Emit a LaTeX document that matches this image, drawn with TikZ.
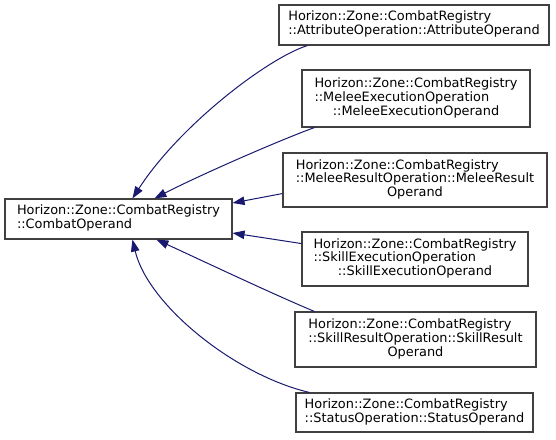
\documentclass[tikz,border=0pt]{standalone}
\usepackage{fontspec}
\setmainfont{DejaVu Sans}
\usetikzlibrary{arrows.meta,calc}
\definecolor{edgeblue}{RGB}{25,25,112}
\definecolor{boxborder}{RGB}{64,64,64}
\newcommand{\ctrline}[1]{\multicolumn{1}{@{}c@{}}{#1}}
\newcommand{\boxtext}[1]{\begin{tabular}{@{}l@{}}#1\end{tabular}}
\tikzset{
  box/.style={draw=boxborder, line width=1.1pt, fill=white, inner sep=0pt,
    font=\fontsize{12.9pt}{13.4pt}\selectfont},
  edge/.style={draw=edgeblue, line width=1pt, -{Triangle[length=12pt,width=8.5pt,fill=edgeblue]}}
}
\begin{document}
\begin{tikzpicture}
\useasboundingbox (0,0) rectangle (556pt,-439pt);
\node[box, minimum width=227pt, minimum height=40pt] (base) at (118.5pt,-219pt)
  {\boxtext{Horizon::Zone::CombatRegistry\\::CombatOperand}};
\node[box, minimum width=270pt, minimum height=40pt] (attr) at (414pt,-25pt)
  {\boxtext{Horizon::Zone::CombatRegistry\\::AttributeOperation::AttributeOperand}};
\node[box, minimum width=228pt, minimum height=57pt] (mexec) at (416pt,-98.5pt)
  {\boxtext{Horizon::Zone::CombatRegistry\\::MeleeExecutionOperation\\\ctrline{::MeleeExecutionOperand}}};
\node[box, minimum width=264pt, minimum height=54pt] (mres) at (415pt,-180pt)
  {\boxtext{Horizon::Zone::CombatRegistry\\::MeleeResultOperation::MeleeResult\\\ctrline{Operand}}};
\node[box, minimum width=226pt, minimum height=54pt] (sexec) at (415pt,-259pt)
  {\boxtext{Horizon::Zone::CombatRegistry\\::SkillExecutionOperation\\\ctrline{::SkillExecutionOperand}}};
\node[box, minimum width=241pt, minimum height=55pt] (sres) at (415.5pt,-339.5pt)
  {\boxtext{Horizon::Zone::CombatRegistry\\::SkillResultOperation::SkillResult\\\ctrline{Operand}}};
\node[box, minimum width=237pt, minimum height=39pt] (status) at (414.5pt,-412.5pt)
  {\boxtext{Horizon::Zone::CombatRegistry\\::StatusOperation::StatusOperand}};

\draw[edge] ($(attr.south west)+(29pt,0)$) .. controls (268pt,-58pt) and (180pt,-125pt) .. ($(base.north west)+(128pt,0)$);
\draw[edge] ($(mexec.south west)+(13pt,0)$) .. controls (280pt,-140pt) and (200pt,-175pt) .. ($(base.north west)+(150pt,0)$);
\draw[edge] ($(mres.south west)+(0,14pt)$) -- ($(base.east)+(0,16pt)$);
\draw[edge] ($(sexec.south west)+(0,43pt)$) -- ($(base.east)+(0,-14pt)$);
\draw[edge] ($(sres.north west)+(20pt,0)$) .. controls (275pt,-295pt) and (205pt,-262pt) .. ($(base.south west)+(152pt,0)$);
\draw[edge] ($(status.north west)+(14pt,0)$) .. controls (235pt,-375pt) and (148pt,-305pt) .. ($(base.south west)+(128pt,0)$);
\end{tikzpicture}
\end{document}
